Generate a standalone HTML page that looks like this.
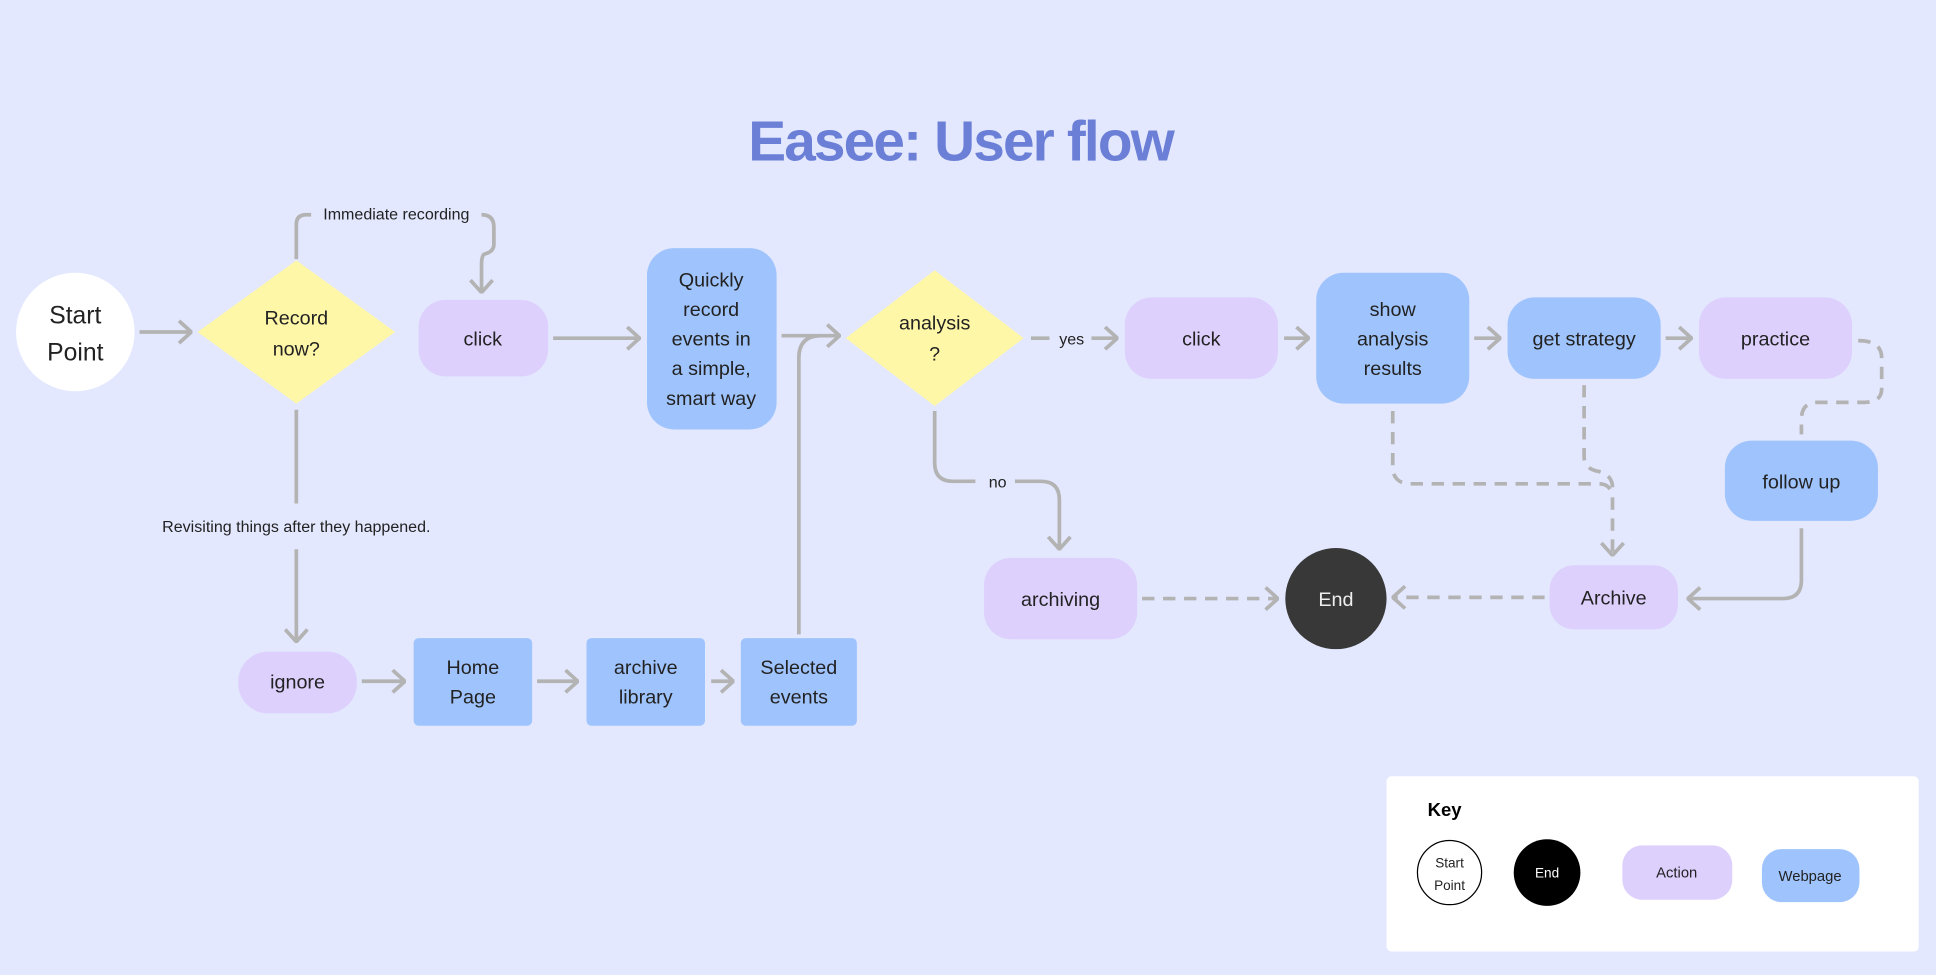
<!DOCTYPE html>
<html><head><meta charset="utf-8"><style>
html,body{margin:0;padding:0;background:#e3e8fe;}
svg{display:block}
text{font-family:"Liberation Sans",sans-serif;fill:#222;}
</style></head><body>
<svg width="1936" height="975" viewBox="0 0 1568 790" preserveAspectRatio="none" xmlns="http://www.w3.org/2000/svg">
<defs>
<marker id="a" viewBox="0 0 12 20" refX="11" refY="10" markerWidth="12" markerHeight="20" markerUnits="userSpaceOnUse" orient="auto">
<path d="M1,1 L11,10 L1,19" fill="none" stroke="#b3b3b3" stroke-width="3"/>
</marker>
</defs>
<rect width="1568" height="790" fill="#e3e8fe"/>
<text x="778" y="130" text-anchor="middle" font-size="46" font-weight="bold" style="fill:#6b7fd7" letter-spacing="-1.5">Easee: User flow</text>

<g fill="none" stroke="#b3b3b3" stroke-width="3">
<path d="M113,269 H155" marker-end="url(#a)"/>
<path d="M240,210 V182 Q240,174 248,174 H252"/>
<path d="M390,174 Q400,174 400,184 V198 Q400,204 392,206 Q390,208 390,214 V237" marker-end="url(#a)"/>
<path d="M448,274 H518" marker-end="url(#a)"/>
<path d="M633,272 H680" marker-end="url(#a)"/>
<path d="M647,514 V290 Q647,272 665,272"/>
<path d="M835,274 H850"/>
<path d="M884,274 H905" marker-end="url(#a)"/>
<path d="M1040,274 H1060" marker-end="url(#a)"/>
<path d="M1194,274 H1215" marker-end="url(#a)"/>
<path d="M1349,274 H1370" marker-end="url(#a)"/>
<path d="M757,333 V375 Q757,390 772,390 H790"/>
<path d="M822,390 H843 Q858,390 858,405 V445" marker-end="url(#a)"/>
<path d="M240,332 V408"/>
<path d="M240,445 V520" marker-end="url(#a)"/>
<path d="M293,552 H328" marker-end="url(#a)"/>
<path d="M435,552 H468" marker-end="url(#a)"/>
<path d="M576,552 H594" marker-end="url(#a)"/>
<path d="M1459,428 V470 Q1459,485 1444,485 H1367" marker-end="url(#a)"/>
</g>
<g fill="none" stroke="#b3b3b3" stroke-width="3" stroke-dasharray="10,7">
<path d="M1505,276 Q1524,276 1524,290 V315 Q1524,326 1510,326 H1472 Q1459,326 1459,340 V352"/>
<path d="M1128,333 V378 Q1128,392 1143,392 H1295 Q1306,392 1306,405 V450" marker-end="url(#a)"/>
<path d="M1283,312 V370 Q1283,380 1295,382 Q1306,385 1306,395"/>
<path d="M1251,484 H1128" marker-end="url(#a)"/>
<path d="M925,485 H1035" marker-end="url(#a)"/>
</g>

<circle cx="61" cy="269" r="48" fill="#fff"/>
<text x="61" y="262" text-anchor="middle" font-size="20">Start</text>
<text x="61" y="292" text-anchor="middle" font-size="20">Point</text>

<polygon points="240,211 320,269 240,327 160,269" fill="#fff7a8"/>
<text x="240" y="263" text-anchor="middle" font-size="16">Record</text>
<text x="240" y="288" text-anchor="middle" font-size="16">now?</text>
<text x="321" y="178" text-anchor="middle" font-size="13">Immediate recording</text>

<rect x="339" y="243" width="105" height="62" rx="22" fill="#ddd0fd"/>
<text x="391" y="280" text-anchor="middle" font-size="16">click</text>

<rect x="524" y="201" width="105" height="147" rx="22" fill="#9fc4fd"/>
<g font-size="16" text-anchor="middle">
<text x="576" y="232">Quickly</text><text x="576" y="256">record</text><text x="576" y="280">events in</text><text x="576" y="304">a simple,</text><text x="576" y="328">smart way</text>
</g>

<polygon points="757,219 829,274 757,329 685,274" fill="#fff7a8"/>
<text x="757" y="267" text-anchor="middle" font-size="16">analysis</text>
<text x="757" y="292" text-anchor="middle" font-size="16">?</text>
<text x="868" y="279" text-anchor="middle" font-size="13">yes</text>
<text x="808" y="395" text-anchor="middle" font-size="13">no</text>

<rect x="911" y="241" width="124" height="66" rx="22" fill="#ddd0fd"/>
<text x="973" y="280" text-anchor="middle" font-size="16">click</text>
<rect x="1066" y="221" width="124" height="106" rx="22" fill="#9fc4fd"/>
<text x="1128" y="256" text-anchor="middle" font-size="16">show</text>
<text x="1128" y="280" text-anchor="middle" font-size="16">analysis</text>
<text x="1128" y="304" text-anchor="middle" font-size="16">results</text>
<rect x="1221" y="241" width="124" height="66" rx="22" fill="#9fc4fd"/>
<text x="1283" y="280" text-anchor="middle" font-size="16">get strategy</text>
<rect x="1376" y="241" width="124" height="66" rx="22" fill="#ddd0fd"/>
<text x="1438" y="280" text-anchor="middle" font-size="16">practice</text>
<rect x="1397" y="357" width="124" height="65" rx="22" fill="#9fc4fd"/>
<text x="1459" y="396" text-anchor="middle" font-size="16">follow up</text>
<rect x="1255" y="458" width="104" height="52" rx="20" fill="#ddd0fd"/>
<text x="1307" y="490" text-anchor="middle" font-size="16">Archive</text>
<circle cx="1082" cy="485" r="41" fill="#383838"/>
<text x="1082" y="491" text-anchor="middle" font-size="16" style="fill:#eee">End</text>
<rect x="797" y="452" width="124" height="66" rx="22" fill="#ddd0fd"/>
<text x="859" y="491" text-anchor="middle" font-size="16">archiving</text>

<text x="240" y="431" text-anchor="middle" font-size="13">Revisiting things after they happened.</text>
<rect x="193" y="528" width="96" height="50" rx="24" fill="#ddd0fd"/>
<text x="241" y="558" text-anchor="middle" font-size="16">ignore</text>
<rect x="335" y="517" width="96" height="71" rx="4" fill="#9fc4fd"/>
<text x="383" y="546" text-anchor="middle" font-size="16">Home</text>
<text x="383" y="570" text-anchor="middle" font-size="16">Page</text>
<rect x="475" y="517" width="96" height="71" rx="4" fill="#9fc4fd"/>
<text x="523" y="546" text-anchor="middle" font-size="16">archive</text>
<text x="523" y="570" text-anchor="middle" font-size="16">library</text>
<rect x="600" y="517" width="94" height="71" rx="4" fill="#9fc4fd"/>
<text x="647" y="546" text-anchor="middle" font-size="16">Selected</text>
<text x="647" y="570" text-anchor="middle" font-size="16">events</text>

<rect x="1123" y="629" width="431" height="142" rx="4" fill="#fff"/>
<text x="1170" y="661" text-anchor="middle" font-size="15" font-weight="bold" style="fill:#000">Key</text>
<circle cx="1174" cy="707" r="26" fill="#fff" stroke="#000" stroke-width="1"/>
<text x="1174" y="703" text-anchor="middle" font-size="11">Start</text>
<text x="1174" y="721" text-anchor="middle" font-size="11">Point</text>
<circle cx="1253" cy="707" r="27" fill="#000"/>
<text x="1253" y="711" text-anchor="middle" font-size="11" style="fill:#fff">End</text>
<rect x="1314" y="685" width="89" height="44" rx="16" fill="#ddd0fd"/>
<text x="1358" y="711" text-anchor="middle" font-size="12">Action</text>
<rect x="1427" y="688" width="79" height="43" rx="16" fill="#9fc4fd"/>
<text x="1466" y="714" text-anchor="middle" font-size="12">Webpage</text>
</svg>
</body></html>
